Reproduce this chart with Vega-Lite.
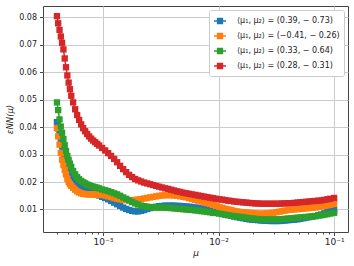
{
  "$schema": "https://vega.github.io/schema/vega-lite/v6.json",
  "width": 305,
  "height": 226,
  "autosize": {"type": "none"},
  "padding": {"left": 43, "top": 6, "right": 6, "bottom": 34},
  "background": "white",
  "config": {
    "font": "DejaVu Sans",
    "view": {"stroke": "#444444", "strokeWidth": 1}
  },
  "data": {"values": [
    {"mu":0.000400,"a":0.0418,"b":0.0397,"c":0.0490,"d":0.0804},
    {"mu":0.000410,"a":0.0395,"b":0.0366,"c":0.0462,"d":0.0778},
    {"mu":0.000421,"a":0.0372,"b":0.0336,"c":0.0428,"d":0.0754},
    {"mu":0.000432,"a":0.0350,"b":0.0306,"c":0.0402,"d":0.0730},
    {"mu":0.000443,"a":0.0330,"b":0.0281,"c":0.0379,"d":0.0707},
    {"mu":0.000455,"a":0.0310,"b":0.0262,"c":0.0356,"d":0.0683},
    {"mu":0.000467,"a":0.0290,"b":0.0244,"c":0.0334,"d":0.0650},
    {"mu":0.000479,"a":0.0272,"b":0.0228,"c":0.0313,"d":0.0618},
    {"mu":0.000492,"a":0.0256,"b":0.0212,"c":0.0295,"d":0.0588},
    {"mu":0.000505,"a":0.0242,"b":0.0200,"c":0.0281,"d":0.0562},
    {"mu":0.000518,"a":0.0230,"b":0.0192,"c":0.0267,"d":0.0538},
    {"mu":0.000532,"a":0.0220,"b":0.0186,"c":0.0255,"d":0.0514},
    {"mu":0.000552,"a":0.0208,"b":0.0179,"c":0.0240,"d":0.0490},
    {"mu":0.000575,"a":0.0198,"b":0.0172,"c":0.0228,"d":0.0465},
    {"mu":0.000598,"a":0.0190,"b":0.0166,"c":0.0218,"d":0.0444},
    {"mu":0.000622,"a":0.0184,"b":0.0162,"c":0.0210,"d":0.0426},
    {"mu":0.000648,"a":0.0179,"b":0.0159,"c":0.0204,"d":0.0410},
    {"mu":0.000674,"a":0.0175,"b":0.0157,"c":0.0199,"d":0.0396},
    {"mu":0.000701,"a":0.0172,"b":0.0156,"c":0.0195,"d":0.0385},
    {"mu":0.000730,"a":0.0169,"b":0.0155,"c":0.0191,"d":0.0375},
    {"mu":0.000760,"a":0.0166,"b":0.0155,"c":0.0188,"d":0.0366},
    {"mu":0.000791,"a":0.0163,"b":0.0155,"c":0.0185,"d":0.0358},
    {"mu":0.000823,"a":0.0160,"b":0.0155,"c":0.0183,"d":0.0351},
    {"mu":0.000856,"a":0.0157,"b":0.0155,"c":0.0181,"d":0.0345},
    {"mu":0.000891,"a":0.0154,"b":0.0155,"c":0.0179,"d":0.0339},
    {"mu":0.000927,"a":0.0151,"b":0.0154,"c":0.0177,"d":0.0333},
    {"mu":0.000984,"a":0.0146,"b":0.0153,"c":0.0173,"d":0.0324},
    {"mu":0.001045,"a":0.0142,"b":0.0151,"c":0.0170,"d":0.0315},
    {"mu":0.001109,"a":0.0137,"b":0.0148,"c":0.0167,"d":0.0305},
    {"mu":0.001177,"a":0.0131,"b":0.0145,"c":0.0163,"d":0.0295},
    {"mu":0.001250,"a":0.0125,"b":0.0142,"c":0.0159,"d":0.0284},
    {"mu":0.001327,"a":0.0119,"b":0.0139,"c":0.0155,"d":0.0272},
    {"mu":0.001408,"a":0.0113,"b":0.0137,"c":0.0150,"d":0.0259},
    {"mu":0.001495,"a":0.0107,"b":0.0135,"c":0.0144,"d":0.0247},
    {"mu":0.001587,"a":0.0102,"b":0.0134,"c":0.0139,"d":0.0236},
    {"mu":0.001685,"a":0.0098,"b":0.0134,"c":0.0133,"d":0.0226},
    {"mu":0.001789,"a":0.0095,"b":0.0134,"c":0.0127,"d":0.0218},
    {"mu":0.001899,"a":0.0093,"b":0.0135,"c":0.0122,"d":0.0211},
    {"mu":0.002016,"a":0.0093,"b":0.0136,"c":0.0118,"d":0.0206},
    {"mu":0.002140,"a":0.0095,"b":0.0138,"c":0.0114,"d":0.0202},
    {"mu":0.002272,"a":0.0098,"b":0.0140,"c":0.0112,"d":0.0198},
    {"mu":0.002412,"a":0.0102,"b":0.0142,"c":0.0110,"d":0.0195},
    {"mu":0.002560,"a":0.0105,"b":0.0144,"c":0.0109,"d":0.0192},
    {"mu":0.002718,"a":0.0108,"b":0.0146,"c":0.0108,"d":0.0189},
    {"mu":0.002885,"a":0.0110,"b":0.0148,"c":0.0107,"d":0.0186},
    {"mu":0.003063,"a":0.0112,"b":0.0150,"c":0.0107,"d":0.0183},
    {"mu":0.003252,"a":0.0113,"b":0.0151,"c":0.0107,"d":0.0180},
    {"mu":0.003452,"a":0.0114,"b":0.0152,"c":0.0107,"d":0.0177},
    {"mu":0.003665,"a":0.0114,"b":0.0152,"c":0.0106,"d":0.0175},
    {"mu":0.003890,"a":0.0114,"b":0.0152,"c":0.0105,"d":0.0172},
    {"mu":0.004130,"a":0.0114,"b":0.0151,"c":0.0104,"d":0.0169},
    {"mu":0.004384,"a":0.0113,"b":0.0150,"c":0.0103,"d":0.0166},
    {"mu":0.004654,"a":0.0113,"b":0.0148,"c":0.0102,"d":0.0164},
    {"mu":0.004941,"a":0.0112,"b":0.0146,"c":0.0101,"d":0.0161},
    {"mu":0.005245,"a":0.0111,"b":0.0144,"c":0.0100,"d":0.0159},
    {"mu":0.005568,"a":0.0110,"b":0.0141,"c":0.0099,"d":0.0157},
    {"mu":0.005911,"a":0.0109,"b":0.0138,"c":0.0098,"d":0.0155},
    {"mu":0.006275,"a":0.0107,"b":0.0135,"c":0.0097,"d":0.0153},
    {"mu":0.006662,"a":0.0106,"b":0.0132,"c":0.0096,"d":0.0151},
    {"mu":0.007072,"a":0.0104,"b":0.0129,"c":0.0094,"d":0.0149},
    {"mu":0.007508,"a":0.0102,"b":0.0126,"c":0.0093,"d":0.0147},
    {"mu":0.007970,"a":0.0100,"b":0.0123,"c":0.0091,"d":0.0145},
    {"mu":0.008461,"a":0.0098,"b":0.0120,"c":0.0090,"d":0.0143},
    {"mu":0.008982,"a":0.0095,"b":0.0117,"c":0.0088,"d":0.0141},
    {"mu":0.009535,"a":0.0092,"b":0.0113,"c":0.0087,"d":0.0139},
    {"mu":0.010140,"a":0.0089,"b":0.0109,"c":0.0085,"d":0.0137},
    {"mu":0.010765,"a":0.0086,"b":0.0106,"c":0.0083,"d":0.0136},
    {"mu":0.011428,"a":0.0083,"b":0.0103,"c":0.0081,"d":0.0134},
    {"mu":0.012132,"a":0.0080,"b":0.0100,"c":0.0079,"d":0.0132},
    {"mu":0.012879,"a":0.0077,"b":0.0098,"c":0.0077,"d":0.0131},
    {"mu":0.013672,"a":0.0074,"b":0.0095,"c":0.0076,"d":0.0129},
    {"mu":0.014514,"a":0.0072,"b":0.0093,"c":0.0074,"d":0.0128},
    {"mu":0.015408,"a":0.0070,"b":0.0091,"c":0.0073,"d":0.0127},
    {"mu":0.016357,"a":0.0068,"b":0.0090,"c":0.0071,"d":0.0126},
    {"mu":0.017365,"a":0.0066,"b":0.0089,"c":0.0070,"d":0.0125},
    {"mu":0.018434,"a":0.0064,"b":0.0088,"c":0.0068,"d":0.0124},
    {"mu":0.019570,"a":0.0063,"b":0.0087,"c":0.0067,"d":0.0123},
    {"mu":0.020775,"a":0.0062,"b":0.0086,"c":0.0066,"d":0.0122},
    {"mu":0.022055,"a":0.0061,"b":0.0085,"c":0.0065,"d":0.0122},
    {"mu":0.023413,"a":0.0060,"b":0.0085,"c":0.0064,"d":0.0121},
    {"mu":0.024855,"a":0.0059,"b":0.0085,"c":0.0064,"d":0.0121},
    {"mu":0.026386,"a":0.0059,"b":0.0086,"c":0.0064,"d":0.0121},
    {"mu":0.028011,"a":0.0058,"b":0.0087,"c":0.0064,"d":0.0121},
    {"mu":0.029737,"a":0.0058,"b":0.0088,"c":0.0064,"d":0.0121},
    {"mu":0.031568,"a":0.0058,"b":0.0090,"c":0.0064,"d":0.0121},
    {"mu":0.033513,"a":0.0058,"b":0.0092,"c":0.0064,"d":0.0121},
    {"mu":0.035577,"a":0.0059,"b":0.0094,"c":0.0065,"d":0.0122},
    {"mu":0.037768,"a":0.0060,"b":0.0096,"c":0.0066,"d":0.0122},
    {"mu":0.040095,"a":0.0061,"b":0.0098,"c":0.0067,"d":0.0123},
    {"mu":0.042564,"a":0.0062,"b":0.0099,"c":0.0068,"d":0.0123},
    {"mu":0.045186,"a":0.0063,"b":0.0100,"c":0.0069,"d":0.0124},
    {"mu":0.047969,"a":0.0064,"b":0.0101,"c":0.0070,"d":0.0125},
    {"mu":0.050924,"a":0.0066,"b":0.0102,"c":0.0071,"d":0.0126},
    {"mu":0.054060,"a":0.0068,"b":0.0103,"c":0.0072,"d":0.0127},
    {"mu":0.057390,"a":0.0070,"b":0.0104,"c":0.0073,"d":0.0128},
    {"mu":0.060925,"a":0.0072,"b":0.0105,"c":0.0074,"d":0.0129},
    {"mu":0.064678,"a":0.0074,"b":0.0106,"c":0.0075,"d":0.0130},
    {"mu":0.068662,"a":0.0076,"b":0.0107,"c":0.0076,"d":0.0131},
    {"mu":0.072891,"a":0.0079,"b":0.0109,"c":0.0078,"d":0.0132},
    {"mu":0.077381,"a":0.0082,"b":0.0111,"c":0.0079,"d":0.0133},
    {"mu":0.082147,"a":0.0086,"b":0.0113,"c":0.0081,"d":0.0135},
    {"mu":0.087207,"a":0.0090,"b":0.0115,"c":0.0083,"d":0.0137},
    {"mu":0.092579,"a":0.0094,"b":0.0117,"c":0.0085,"d":0.0139},
    {"mu":0.100000,"a":0.0099,"b":0.0120,"c":0.0088,"d":0.0142}
  ]},
  "transform": [{"fold": ["a", "b", "c", "d"], "as": ["s", "e"]}],
  "encoding": {
    "x": {
      "field": "mu", "type": "quantitative",
      "scale": {"type": "log", "domain": [0.000303, 0.1318], "nice": false},
      "axis": {
        "title": "μ", "titleFontStyle": "italic", "titleFontSize": 9, "titleFontWeight": "normal", "titleColor": "#222222", "titlePadding": 2,
        "values": [0.0004,0.0005,0.0006,0.0007,0.0008,0.0009,0.001,0.002,0.003,0.004,0.005,0.006,0.007,0.008,0.009,0.01,0.02,0.03,0.04,0.05,0.06,0.07,0.08,0.09,0.1],
        "labelExpr": "datum.value == 0.001 ? '10⁻³' : datum.value == 0.01 ? '10⁻²' : datum.value == 0.1 ? '10⁻¹' : ''",
        "labelOverlap": false, "labelFlush": false, "labelFontSize": 9, "labelColor": "#222222", "labelPadding": 2,
        "grid": true, "gridColor": "#cccccc", "gridWidth": 1,
        "gridOpacity": {"condition": {"test": "datum.value == 0.001 || datum.value == 0.01 || datum.value == 0.1", "value": 1}, "value": 0},
        "tickSize": {"condition": {"test": "datum.value == 0.001 || datum.value == 0.01 || datum.value == 0.1", "value": 3.5}, "value": 2},
        "tickColor": "#444444", "domain": false
      }
    },
    "y": {
      "field": "e", "type": "quantitative",
      "scale": {"domain": [0.0018, 0.0841], "nice": false, "zero": false},
      "axis": {
        "title": "εNN(μ)", "titleFontStyle": "italic", "titleFontSize": 8.5, "titleFontWeight": "normal", "titleColor": "#222222", "titlePadding": 4,
        "values": [0.01,0.02,0.03,0.04,0.05,0.06,0.07,0.08], "format": ".2f",
        "labelFontSize": 8, "labelColor": "#222222", "labelPadding": 3,
        "grid": true, "gridColor": "#cccccc", "gridWidth": 1,
        "tickSize": 3.5, "tickColor": "#444444", "domain": false
      }
    },
    "color": {
      "field": "s", "type": "nominal",
      "scale": {"domain": ["a", "b", "c", "d"], "range": ["#1f77b4", "#ff7f0e", "#2ca02c", "#d62728"]},
      "legend": {
        "title": null, "orient": "top-right", "offset": 4, "padding": 4,
        "strokeColor": "#cccccc", "fillColor": "white", "cornerRadius": 2,
        "symbolType": "M-1,0L1,0M-0.4,-0.4L0.4,-0.4L0.4,0.4L-0.4,0.4Z",
        "symbolSize": 144, "symbolStrokeWidth": 1.5, "symbolOpacity": 1,
        "labelFontSize": 8, "labelColor": "#222222", "labelOffset": 10, "rowPadding": 2, "labelLimit": 200,
        "labelExpr": "datum.value == 'a' ? '⟨μ₁, μ₂⟩ = (0.39, − 0.73)' : datum.value == 'b' ? '⟨μ₁, μ₂⟩ = (−0.41, − 0.26)' : datum.value == 'c' ? '⟨μ₁, μ₂⟩ = (0.33, − 0.64)' : '⟨μ₁, μ₂⟩ = (0.28, − 0.31)'",
        "encode": {"symbols": {"update": {"stroke": {"scale": "color", "field": "value"}, "fill": {"scale": "color", "field": "value"}, "strokeWidth": {"value": 1.5}}}}
      }
    }
  },
  "layer": [
    {
      "mark": {"type": "line", "strokeWidth": 1.5}
    },
    {
      "mark": {"type": "point", "filled": true, "shape": "square", "size": 40, "opacity": 1, "strokeWidth": 0},
      "encoding": {
        "order": {"field": "s", "type": "nominal", "sort": "ascending"}
      }
    }
  ]
}
